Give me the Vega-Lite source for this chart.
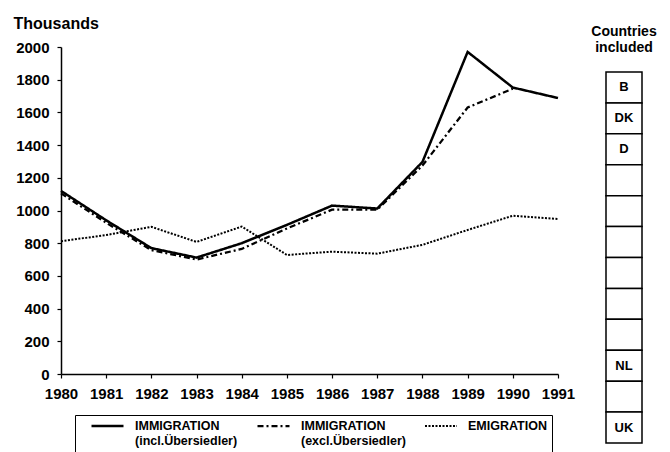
{
  "$schema": "https://vega.github.io/schema/vega-lite/v6.json",
  "background": "white",
  "padding": {"left": 13, "top": 15, "right": 0, "bottom": 0},
  "spacing": 16,
  "config": {
    "font": "Liberation Sans",
    "view": {"stroke": null},
    "axis": {
      "domainColor": "black", "domainWidth": 1.5, "tickColor": "black", "tickWidth": 1.2, "tickSize": 4,
      "labelFont": "Liberation Sans", "labelFontSize": 15, "labelFontWeight": "bold", "labelColor": "black",
      "labelPadding": 8, "grid": false, "labelFlush": false, "labelOverlap": false,
      "titleFont": "Liberation Sans", "titleFontSize": 16, "titleFontWeight": "bold", "titleColor": "black"
    }
  },
  "hconcat": [
    {
      "width": 497,
      "height": 327,
      "data": {"values": [
        {"year": 1980, "series": "incl", "value": 1120},
        {"year": 1981, "series": "incl", "value": 940},
        {"year": 1982, "series": "incl", "value": 770},
        {"year": 1983, "series": "incl", "value": 712},
        {"year": 1984, "series": "incl", "value": 800},
        {"year": 1985, "series": "incl", "value": 912},
        {"year": 1986, "series": "incl", "value": 1030},
        {"year": 1987, "series": "incl", "value": 1012},
        {"year": 1988, "series": "incl", "value": 1297},
        {"year": 1989, "series": "incl", "value": 1970},
        {"year": 1990, "series": "incl", "value": 1752},
        {"year": 1991, "series": "incl", "value": 1688},
        {"year": 1980, "series": "excl", "value": 1105},
        {"year": 1981, "series": "excl", "value": 925},
        {"year": 1982, "series": "excl", "value": 758},
        {"year": 1983, "series": "excl", "value": 700},
        {"year": 1984, "series": "excl", "value": 765},
        {"year": 1985, "series": "excl", "value": 890},
        {"year": 1986, "series": "excl", "value": 1005},
        {"year": 1987, "series": "excl", "value": 1005},
        {"year": 1988, "series": "excl", "value": 1275},
        {"year": 1989, "series": "excl", "value": 1630},
        {"year": 1990, "series": "excl", "value": 1745},
        {"year": 1980, "series": "emig", "value": 812},
        {"year": 1981, "series": "emig", "value": 850},
        {"year": 1982, "series": "emig", "value": 900},
        {"year": 1983, "series": "emig", "value": 808},
        {"year": 1984, "series": "emig", "value": 902},
        {"year": 1985, "series": "emig", "value": 728},
        {"year": 1986, "series": "emig", "value": 748},
        {"year": 1987, "series": "emig", "value": 736},
        {"year": 1988, "series": "emig", "value": 790},
        {"year": 1989, "series": "emig", "value": 881},
        {"year": 1990, "series": "emig", "value": 968},
        {"year": 1991, "series": "emig", "value": 948}
      ]},
      "mark": {"type": "line", "color": "black"},
      "encoding": {
        "x": {
          "field": "year", "type": "quantitative",
          "scale": {"domain": [1980, 1991], "nice": false, "zero": false},
          "axis": {"values": [1980,1981,1982,1983,1984,1985,1986,1987,1988,1989,1990,1991], "format": "d", "title": null}
        },
        "y": {
          "field": "value", "type": "quantitative",
          "scale": {"domain": [0, 2000], "nice": false},
          "axis": {
            "values": [0,200,400,600,800,1000,1200,1400,1600,1800,2000], "format": "d",
            "title": "Thousands", "titleAngle": 0, "titleX": -48, "titleY": -19,
            "titleAlign": "left", "titleBaseline": "alphabetic"
          }
        },
        "strokeDash": {
          "field": "series", "type": "nominal",
          "scale": {"domain": ["incl", "excl", "emig"], "range": [[1, 0], [6, 3, 2, 3], [2, 1.5]]},
          "legend": {
            "orient": "none", "legendX": 14, "legendY": 368, "direction": "horizontal",
            "title": null, "strokeColor": "black", "padding": 5, "clipHeight": 12,
            "labelExpr": "datum.label == 'incl' ? ['IMMIGRATION', '(incl.Übersiedler)'] : datum.label == 'excl' ? ['IMMIGRATION', '(excl.Übersiedler)'] : ['EMIGRATION', '']",
            "symbolType": "stroke", "symbolSize": 1024, "symbolStrokeColor": "black", "symbolOffset": 10,
            "labelFont": "Liberation Sans", "labelFontSize": 12.5, "labelFontWeight": "bold", "labelColor": "black",
            "labelOffset": 10, "labelLineHeight": 17, "columnPadding": 8, "labelLimit": 300
          }
        },
        "strokeWidth": {
          "field": "series", "type": "nominal",
          "scale": {"domain": ["incl", "excl", "emig"], "range": [2.5, 2, 1.6]},
          "legend": {
            "orient": "none", "legendX": 14, "legendY": 368, "direction": "horizontal",
            "title": null
          }
        }
      }
    },
    {
      "width": 36,
      "height": 396,
      "title": {"text": ["Countries", "included"], "fontSize": 14, "fontWeight": "bold", "font": "Liberation Sans", "color": "black", "anchor": "middle", "offset": -8},
      "data": {"values": [
        {"cell": 1, "country": "B"},
        {"cell": 2, "country": "DK"},
        {"cell": 3, "country": "D"},
        {"cell": 4, "country": ""},
        {"cell": 5, "country": ""},
        {"cell": 6, "country": ""},
        {"cell": 7, "country": ""},
        {"cell": 8, "country": ""},
        {"cell": 9, "country": ""},
        {"cell": 10, "country": "NL"},
        {"cell": 11, "country": ""},
        {"cell": 12, "country": "UK"}
      ]},
      "layer": [
        {
          "mark": {"type": "rect", "fill": "white", "stroke": "black", "strokeWidth": 1.5},
          "encoding": {
            "y": {"field": "cell", "type": "ordinal", "scale": {"range": [25, 396], "paddingInner": 0, "paddingOuter": 0}, "axis": null}
          }
        },
        {
          "mark": {"type": "text", "fontWeight": "bold", "fontSize": 13, "font": "Liberation Sans", "color": "black"},
          "encoding": {
            "y": {"field": "cell", "type": "ordinal", "axis": null},
            "text": {"field": "country"}
          }
        }
      ]
    }
  ]
}
